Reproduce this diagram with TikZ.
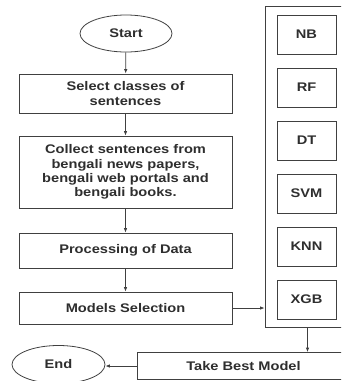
\documentclass[tikz,border=0pt]{standalone}
\usepackage{fontspec}
\setmainfont{Liberation Sans}[BoldFeatures={FakeStretch=1.17}]
\usetikzlibrary{arrows.meta,shapes.geometric}
\definecolor{ln}{gray}{0.25}
\definecolor{tx}{gray}{0.18}
\begin{document}
\begin{tikzpicture}[x=1pt,y=1pt,
  base/.style={draw=ln,line width=0.8pt,text=tx,font=\bfseries\fontsize{12.5}{14.3}\selectfont,inner sep=0pt,align=center},
  box/.style={base,rectangle,minimum width=213pt},
  oval/.style={base,ellipse,minimum width=92pt,minimum height=37pt},
  mbox/.style={base,rectangle,minimum width=59pt,minimum height=39pt},
  arr/.style={draw=ln,line width=0.8pt,-{Latex[length=4.5pt,width=3.5pt]}}]
\useasboundingbox (0,0) rectangle (341,-381);
\begin{scope}
\clip (0,0) rectangle (341,-381);
\node[oval] (start) at (126,-33.5) {Start};
\node[box,minimum height=39pt] (select) at (125.5,-93.5) {Select classes of\\sentences};
\node[box,minimum height=72pt] (collect) at (125.5,-172) {Collect sentences from\\bengali news papers,\\bengali web portals and\\bengali books.};
\node[box,minimum height=35pt] (proc) at (125.5,-250.5) {Processing of Data};
\node[box,minimum height=32pt] (msel) at (125.5,-308) {Models Selection};
\node[base,rectangle,minimum width=85pt,minimum height=321pt] (group) at (307.5,-166.5) {};
\node[mbox] (nb) at (306.5,-34.5) {NB};
\node[mbox] (rf) at (306.5,-87.5) {RF};
\node[mbox] (dt) at (306.5,-140.5) {DT};
\node[mbox] (svm) at (306.5,-193.5) {SVM};
\node[mbox] (knn) at (306.5,-246.5) {KNN};
\node[mbox] (xgb) at (306.5,-299.5) {XGB};
\node[base,rectangle,minimum width=213pt,minimum height=27pt] (best) at (243.5,-366) {Take Best Model};
\node[oval,minimum width=93pt,minimum height=38pt] (endn) at (58.5,-364.5) {\raisebox{-2.5pt}{End}};
\draw[arr] (start) -- (select);
\draw[arr] (select) -- (collect);
\draw[arr] (collect) -- (proc);
\draw[arr] (proc) -- (msel);
\draw[arr] (msel.east) -- (msel.east -| group.west);
\draw[arr] (group.south) -- (group.south |- best.north);
\draw[arr] (best.west) -- (best.west -| endn.east);
\end{scope}
\end{tikzpicture}
\end{document}
